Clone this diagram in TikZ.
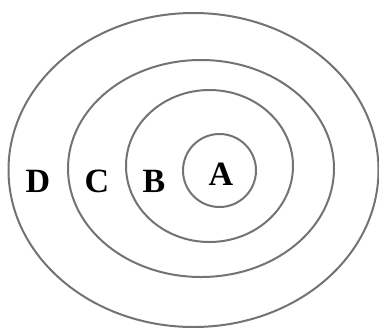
\documentclass[tikz,border=0pt]{standalone}
\usepackage{fontspec}
\setmainfont{Liberation Serif}

\begin{document}
\begin{tikzpicture}[x=1pt, y=-1pt]
    \tikzset{ring/.style={draw=black!55, line width=2pt},
             zone/.style={font=\bfseries\fontsize{34}{34}\selectfont, inner sep=0pt}}
    \useasboundingbox (0, 0) rectangle (379, 327);
    
    \draw[ring] (193.5, 170) ellipse (185 and 157);
    \draw[ring] (201, 168.5) ellipse (133 and 108.5);
    \draw[ring] (209.5, 166) ellipse (83.5 and 76);
    \draw[ring] (219.5, 170.5) ellipse (36.5 and 36.5);
    
    \node[zone] (zA) at (221, 174) {A};
    \node[zone] (zB) at (154, 181) {B};
    \node[zone] (zC) at (97, 181) {C};
    \node[zone] (zD) at (38, 181) {D};
\end{tikzpicture}
\end{document}
